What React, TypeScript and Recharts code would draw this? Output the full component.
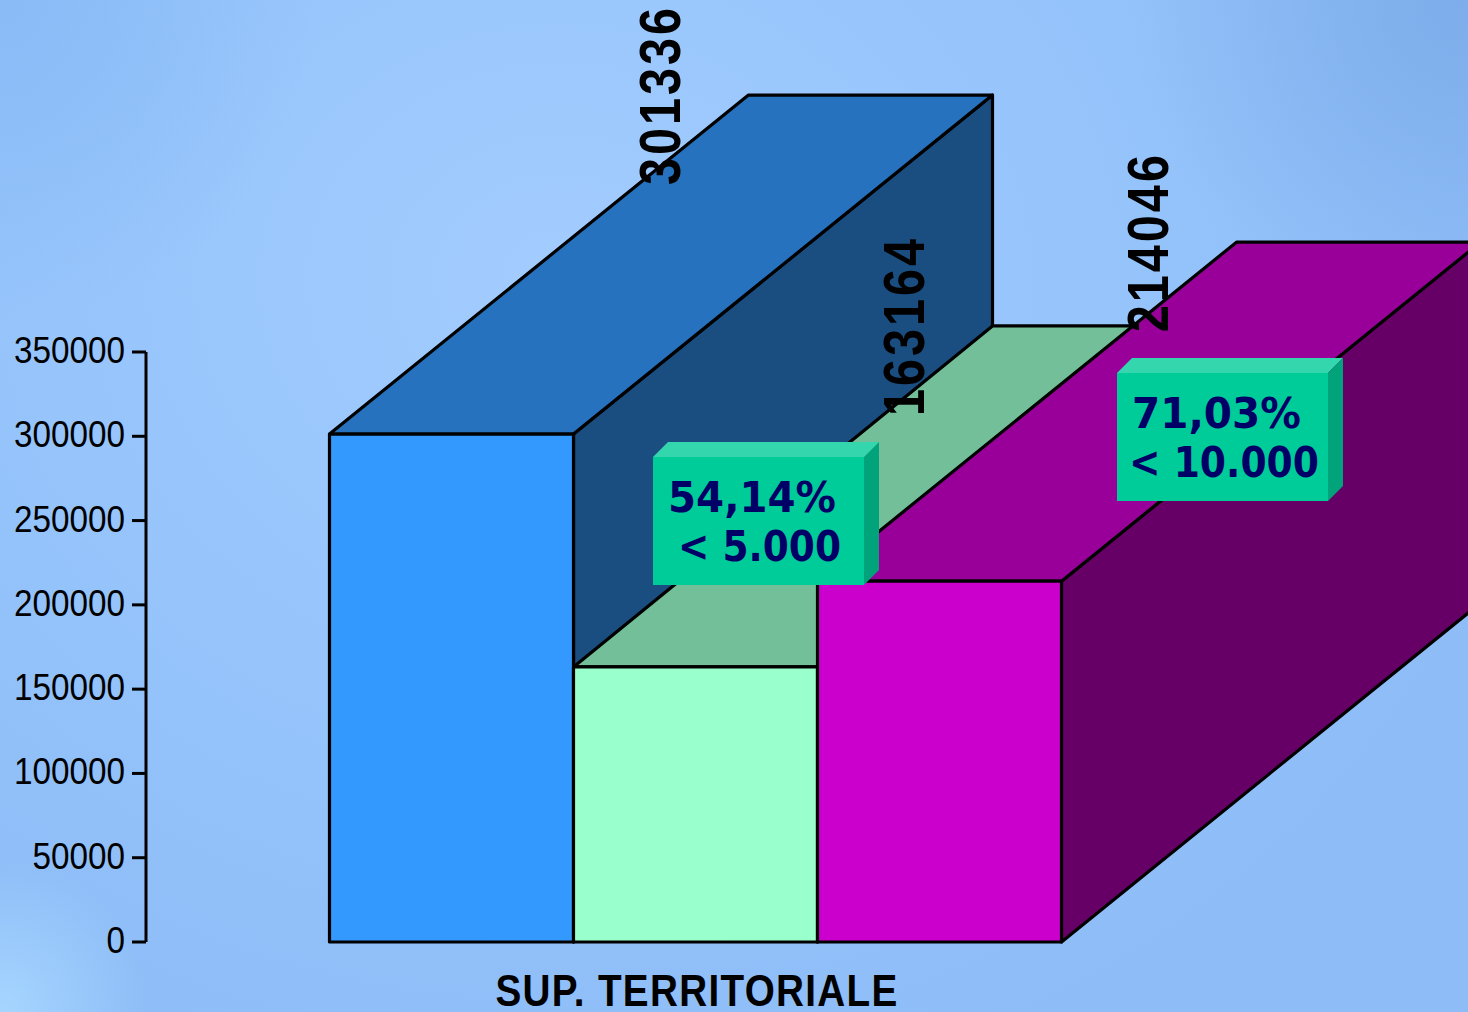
import { BarChart, Bar, XAxis, YAxis, LabelList } from "recharts";

const categories = ["SUP. TERRITORIALE"];
const seriesKeys = ["a", "b", "c"];
const seriesValues = [301336, 163164, 214046];
const yTicks = [0, 50000, 100000, 150000, 200000, 250000, 300000, 350000];

const frontColors = ["#3399ff", "#99ffcc", "#cc00cc"];
const topColors = ["#2672bf", "#73bf99", "#990099"];
const sideColors = ["#1a4d80", "#4d8066", "#660066"];

const callouts = [
  { x: 653, y: 457, lines: ["54,14%", "< 5.000"], textX: [668, 678], widths: [168, 163] },
  { x: 1117, y: 373, lines: ["71,03%", "< 10.000"], textX: [1132, 1129], widths: [169, 190] },
];

const tableRow: Record<string, string | number> = { name: categories[0] };
seriesKeys.forEach((k, i) => {
  tableRow[k] = seriesValues[i];
});
const data = [tableRow];

const DEPTH_X = 419;
const depthY = [339, 341, 339];
const EDGE = { stroke: "#000", strokeWidth: 3.2, strokeLinejoin: "round" as const };

function Box3D(props: any) {
  const { x, y, width, height, index } = props;
  const i = props.seriesIndex ?? index;
  const r = x + width;
  const b = y + height;
  const dy = depthY[i];
  return (
    <g>
      <polygon
        points={`${r},${y} ${r + DEPTH_X},${y - dy} ${r + DEPTH_X},${b - dy} ${r},${b}`}
        fill={sideColors[i]}
        {...EDGE}
      />
      <polygon
        points={`${x},${y} ${x + DEPTH_X},${y - dy} ${r + DEPTH_X},${y - dy} ${r},${y}`}
        fill={topColors[i]}
        {...EDGE}
      />
      <rect x={x} y={y} width={width} height={height} fill={frontColors[i]} {...EDGE} />
    </g>
  );
}

function ValueLabel(props: any) {
  const { x, y, width, value, seriesIndex } = props;
  const cx = x + width / 2 + 228;
  const cy = y - depthY[seriesIndex];
  return (
    <text
      transform={`translate(${cx},${cy}) rotate(-90) scale(0.84,1)`}
      textAnchor="middle"
      fontFamily="Liberation Sans"
      fontWeight="bold"
      fontSize={58}
      letterSpacing={3.5}
      fill="#000"
    >
      {value}
    </text>
  );
}

function YTick(props: any) {
  const { x, y, payload } = props;
  return (
    <text
      transform={`translate(${x},${y + 11}) scale(0.9,1)`}
      textAnchor="end"
      fontFamily="Liberation Sans"
      fontSize={37}
      fill="#000"
    >
      {payload.value}
    </text>
  );
}

function XTick(props: any) {
  const { x, payload } = props;
  return (
    <text
      transform={`translate(${x + 1.5},1006) scale(0.86,1)`}
      textAnchor="middle"
      fontFamily="Liberation Sans"
      fontWeight="bold"
      fontSize={45}
      letterSpacing={1.5}
      fill="#000"
    >
      {payload.value}
    </text>
  );
}

function Callout({ x, y, lines, textX, widths }: (typeof callouts)[number]) {
  const w = 211;
  const h = 128;
  const d = 15;
  return (
    <g>
      <polygon points={`${x},${y} ${x + d},${y - d} ${x + w + d},${y - d} ${x + w},${y}`} fill="#33d6ad" />
      <polygon points={`${x + w},${y} ${x + w + d},${y - d} ${x + w + d},${y + h - d} ${x + w},${y + h}`} fill="#00a37a" />
      <rect x={x} y={y} width={w} height={h} fill="#00cc99" />
      {lines.map((line, i) => (
        <text
          key={line}
          x={textX[i]}
          y={y + 55 + i * 49}
          fontFamily="DejaVu Sans"
          fontWeight="bold"
          fontSize={43}
          textLength={widths[i]}
          lengthAdjust="spacingAndGlyphs"
          fill="#000066"
        >
          {line}
        </text>
      ))}
    </g>
  );
}

export default function App() {
  return (
    <div
      style={{
        position: "absolute",
        left: 0,
        top: 0,
        width: 1468,
        height: 1012,
        overflow: "hidden",
        background:
          "radial-gradient(circle 150px at 0px 1012px, #a6d6ff 0%, rgba(166,214,255,0) 100%), radial-gradient(circle 320px at 0px 0px, #8abbf6 0%, rgba(138,187,246,0) 100%), radial-gradient(circle 340px at 1468px 0px, #7dadea 0%, rgba(125,173,234,0) 100%), radial-gradient(ellipse 1000px 850px at 560px 280px, #a3ccff 0%, #98c6fc 42%, #8dbcf7 100%)",
      }}
    >
      <BarChart
        width={1468}
        height={1012}
        data={data}
        margin={{ top: 352, right: 223, bottom: 0, left: 0 }}
        barCategoryGap={183.5}
        barGap={0}
      >
        <XAxis dataKey="name" axisLine={false} tickLine={false} tick={<XTick />} height={70} />
        <YAxis
          width={146}
          domain={[0, 350000]}
          ticks={yTicks}
          interval={0}
          tickSize={14}
          tickMargin={7}
          axisLine={{ stroke: "#000", strokeWidth: 3 }}
          tickLine={{ stroke: "#000", strokeWidth: 3 }}
          tick={<YTick />}
        />
        {seriesKeys.map((k, i) => (
          <Bar
            key={k}
            dataKey={k}
            isAnimationActive={false}
            shape={(p: any) => <Box3D {...p} seriesIndex={i} />}
          >
            <LabelList dataKey={k} content={(p: any) => <ValueLabel {...p} seriesIndex={i} />} />
          </Bar>
        ))}
      </BarChart>
      <svg width={1468} height={1012} style={{ position: "absolute", left: 0, top: 0 }}>
        {callouts.map((c) => (
          <Callout key={c.lines[0]} {...c} />
        ))}
      </svg>
    </div>
  );
}
